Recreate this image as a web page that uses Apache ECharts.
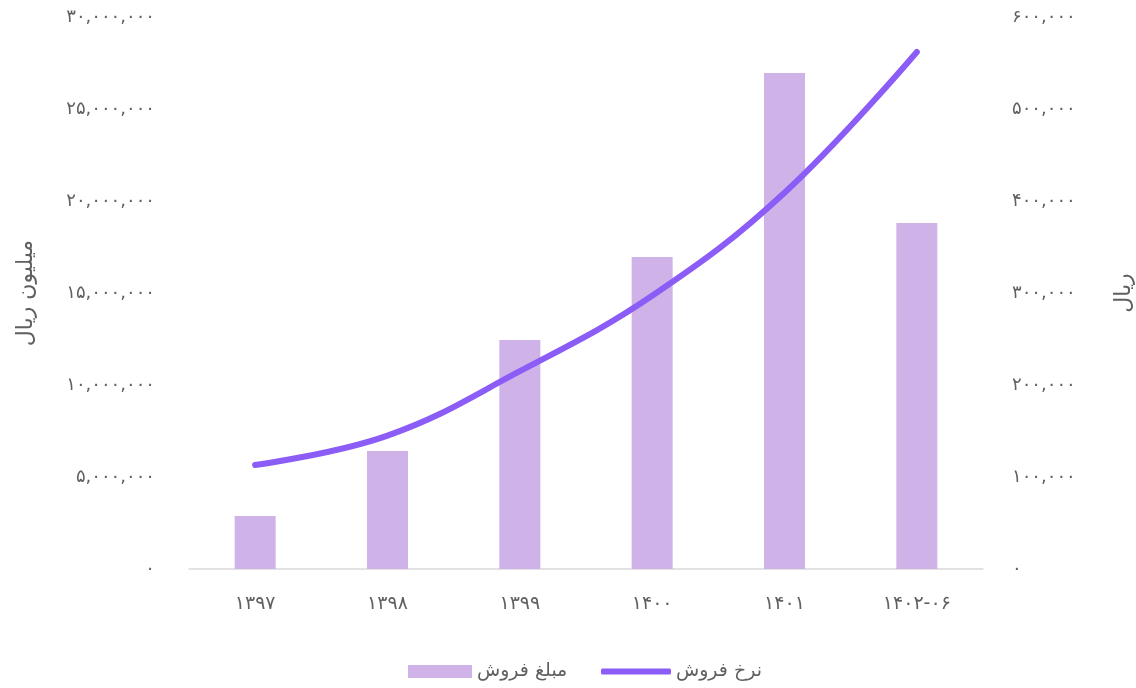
<!DOCTYPE html>
<html>
<head>
<meta charset="utf-8">
<script src="https://cdn.jsdelivr.net/npm/echarts@6/dist/echarts.min.js"></script>
<style>
html, body { margin: 0; padding: 0; background: #ffffff; }
#chart { width: 1136px; height: 688px; }
</style>
</head>
<body>
<div id="chart"></div>
<script>
// Years (Persian calendar) and yearly sales figures
const categories = ['1397', '1398', '1399', '1400', '1401', '1402-06'];
const salesAmount = [2880000, 6410000, 12450000, 16950000, 26950000, 18800000]; // million rials
const salesRate = [113000, 145000, 215000, 297000, 409000, 562000];            // rials
const seriesNames = ['مبلغ فروش', 'نرخ فروش'];
const leftAxisName = 'میلیون ریال';
const rightAxisName = 'ریال';

const FA_DIGITS = '۰۱۲۳۴۵۶۷۸۹';
function toFa(str) {
  return String(str).replace(/[0-9]/g, d => FA_DIGITS[+d]);
}
function fmtNum(v) {
  return toFa(Math.round(v).toString().replace(/\B(?=(\d{3})+(?!\d))/g, ','));
}

const FONT = '"DejaVu Sans", "Noto Sans", sans-serif';
const TEXT = '#606060';

const chart = echarts.init(document.getElementById('chart'));
chart.setOption({
  animation: false,
  textStyle: { fontFamily: FONT },
  grid: { left: 189, right: 153, top: 17, bottom: 119, outerBoundsMode: 'none', containLabel: false },
  legend: [
    {
      data: [seriesNames[0]],
      left: 403, top: 657,
      icon: 'rect', itemWidth: 64, itemHeight: 13, itemGap: 8,
      textStyle: { color: TEXT, fontSize: 19, fontFamily: FONT }
    },
    {
      data: [seriesNames[1]],
      left: 596, top: 657,
      icon: 'roundRect', itemWidth: 70, itemHeight: 6, itemGap: 6,
      textStyle: { color: TEXT, fontSize: 19, fontFamily: FONT }
    }
  ],
  xAxis: {
    type: 'category',
    data: categories,
    axisLine: { lineStyle: { color: '#d9d9d9', width: 1.5 } },
    axisTick: { show: false },
    axisLabel: { color: TEXT, fontSize: 19, margin: 26, formatter: v => toFa(v) }
  },
  yAxis: [
    {
      type: 'value', min: 0, max: 30000000, interval: 5000000,
      name: leftAxisName, nameLocation: 'middle', nameRotate: 90, nameGap: 152,
      nameTextStyle: { color: TEXT, fontSize: 22 },
      axisLine: { show: false }, axisTick: { show: false }, splitLine: { show: false },
      axisLabel: { color: TEXT, fontSize: 18, margin: 34, formatter: fmtNum }
    },
    {
      type: 'value', min: 0, max: 600000, interval: 100000,
      name: rightAxisName, nameLocation: 'middle', nameRotate: 90, nameGap: 130,
      nameTextStyle: { color: TEXT, fontSize: 22 },
      axisLine: { show: false }, axisTick: { show: false }, splitLine: { show: false },
      axisLabel: { color: TEXT, fontSize: 18, margin: 29, formatter: fmtNum }
    }
  ],
  series: [
    {
      name: seriesNames[0],
      type: 'bar',
      yAxisIndex: 0,
      data: salesAmount,
      barWidth: 41,
      itemStyle: { color: '#cfb2e8' }
    },
    {
      name: seriesNames[1],
      type: 'line',
      yAxisIndex: 1,
      data: salesRate,
      smooth: 0.4,
      showSymbol: false,
      symbol: 'none',
      lineStyle: { color: '#8b5cf6', width: 6, cap: 'round' },
      itemStyle: { color: '#8b5cf6' }
    }
  ]
});
</script>
</body>
</html>
